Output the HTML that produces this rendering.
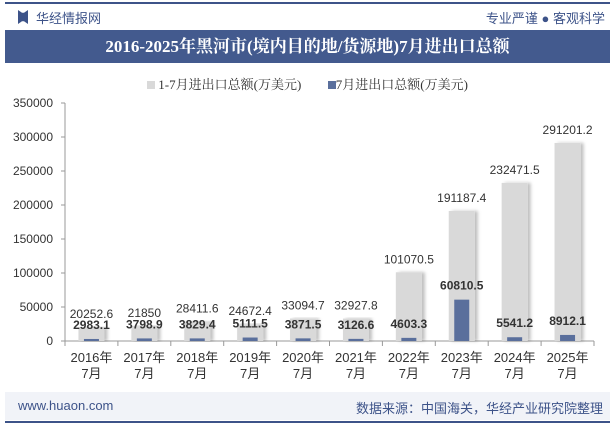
<!DOCTYPE html>
<html><head><meta charset="utf-8"><style>
body{margin:0;width:615px;height:427px;background:#fff;font-family:"Liberation Sans","Noto Sans CJK SC",sans-serif;overflow:hidden;position:relative}
.a{position:absolute}
</style></head><body>
<div class="a" style="left:5px;top:2px;width:605px;height:2px;background:#3d5389"></div>
<div class="a" style="left:18px;top:10px;width:10px;height:14px;background:#3d5389;clip-path:polygon(0 0,40% 20%,60% 20%,100% 0,100% 100%,60% 80%,40% 80%,0 100%)"></div>
<div class="a" style="left:36px;top:8px;font-size:13px;color:#3d5389">华经情报网</div>
<div class="a" style="right:10px;top:8px;font-size:13px;color:#3d5389">专业严谨 ● 客观科学</div>
<div class="a" style="left:5px;top:30px;width:605px;height:33px;background:#435a8e;color:#fff;font-family:'Liberation Serif','Noto Serif CJK SC',serif;font-weight:bold;font-size:17px;line-height:33px;text-align:center">2016-2025年黑河市(境内目的地/货源地)7月进出口总额</div>
<div class="a" style="left:0;top:74px;width:615px;text-align:center;font-size:13px;color:#333;font-family:'Liberation Serif','Noto Serif CJK SC',serif">
<span><span style="display:inline-block;width:8px;height:8px;background:#d9d9d9"></span> 1-7月进出口总额(万美元)</span>
<span style="display:inline-block;width:20px"></span>
<span><span style="display:inline-block;width:8px;height:8px;background:#5a6f9c"></span>7月进出口总额(万美元)</span>
</div>
<svg class="a" style="left:0;top:0" width="615" height="427">
<defs><filter id="sh" x="-20%" y="-5%" width="150%" height="110%"><feDropShadow dx="3" dy="0" stdDeviation="1.5" flood-color="#000" flood-opacity="0.25"/></filter></defs>
<g id="g"></g>
</svg>
<div class="a" style="left:5px;top:392px;width:605px;height:28px;background:#f1f3f8"></div>
<div class="a" style="left:18px;top:398px;font-size:13px;color:#3d5389">www.huaon.com</div>
<div class="a" style="right:12px;top:398px;font-size:13px;color:#3d5389">数据来源：中国海关，华经产业研究院整理</div>
<div class="a" style="left:5px;top:421px;width:605px;height:2px;background:#3d5389"></div>
<script>
const categories=["2016年|7月","2017年|7月","2018年|7月","2019年|7月","2020年|7月","2021年|7月","2022年|7月","2023年|7月","2024年|7月","2025年|7月"];
const cumulative=[20252.6,21850,28411.6,24672.4,33094.7,32927.8,101070.5,191187.4,232471.5,291201.2];
const july=[2983.1,3798.9,3829.4,5111.5,3871.5,3126.6,4603.3,60810.5,5541.2,8912.1];
const yTicks=[0,50000,100000,150000,200000,250000,300000,350000];
const NS="http://www.w3.org/2000/svg";
const g=document.getElementById('g');
const x0=65,x1=594,yb=341,yt=103,ymax=350000;
const y=v=>yb-(v/ymax)*(yb-yt);
const bw=(x1-x0)/categories.length;
const xc=i=>x0+bw*(i+0.5);
function mk(t,a){const e=document.createElementNS(NS,t);for(const k in a)e.setAttribute(k,a[k]);g.appendChild(e);return e;}
let e=mk('line',{x1:x0,y1:yt,x2:x0,y2:yb,stroke:'#999'});


e=mk('line',{x1:x0,y1:yb,x2:x1,y2:yb,stroke:'#999'});


yTicks.forEach(v=>{
 mk('line',{x1:x0-4,y1:y(v),x2:x0,y2:y(v),stroke:'#999'});
 const t=mk('text',{x:x0-12,y:y(v)+4,'text-anchor':'end','font-size':12,fill:'#333'});t.textContent=v;
 
 
});
for(let i=0;i<=categories.length;i++)mk('line',{x1:x0+bw*i,y1:yb,x2:x0+bw*i,y2:yb+5,stroke:'#999'});
categories.forEach((c,i)=>{
 const cx=xc(i);
 let r=mk('rect',{x:cx-13,y:y(cumulative[i]),width:26,height:yb-y(cumulative[i]),fill:'#d9d9d9',filter:'url(#sh)'});
 
 
 r=mk('rect',{x:cx-7.5,y:y(july[i]),width:15,height:yb-y(july[i]),fill:'#5a6f9c'});
 
 
 let t=mk('text',{x:cx,y:y(cumulative[i])-9,'text-anchor':'middle','font-size':12,fill:'#333'});t.textContent=cumulative[i];
 
 
 t=mk('text',{x:cx,y:y(july[i])-10,'text-anchor':'middle','font-size':12,'font-weight':'bold',fill:'#333'});t.textContent=july[i];
 
 
 const p=c.split('|');
 t=mk('text',{x:cx,y:362,'text-anchor':'middle','font-size':13,fill:'#333'});t.textContent=p[0];
 
 
 t=mk('text',{x:cx,y:378,'text-anchor':'middle','font-size':13,fill:'#333'});t.textContent=p[1];
 
 
});
</script>
</body></html>
